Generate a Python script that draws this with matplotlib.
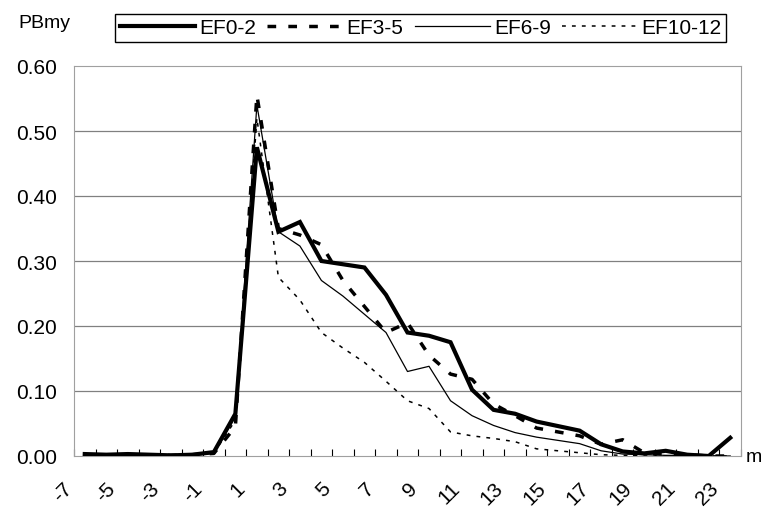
import matplotlib
matplotlib.use("Agg")
import matplotlib.pyplot as plt
from matplotlib.transforms import offset_copy

# months relative to event
months = list(range(-7, 24))
tick_labels = [str(m) if (m + 7) % 2 == 0 else "" for m in months]

ef0_2 = [0.003, 0.002, 0.003, 0.002, 0.001, 0.002, 0.006, 0.065, 0.475, 0.345,
         0.360, 0.300, 0.295, 0.290, 0.248, 0.190, 0.185, 0.175, 0.102, 0.071,
         0.065, 0.053, 0.046, 0.039, 0.018, 0.007, 0.004, 0.008, 0.002, 0.000, 0.028]
ef3_5 = [0.001, 0.001, 0.002, 0.001, 0.001, 0.002, 0.004, 0.045, 0.555, 0.350,
         0.340, 0.325, 0.270, 0.230, 0.190, 0.205, 0.155, 0.126, 0.118, 0.080,
         0.062, 0.043, 0.037, 0.031, 0.018, 0.025, 0.005, 0.003, 0.002, 0.000, 0.000]
ef6_9 = [0.001, 0.001, 0.001, 0.001, 0.001, 0.001, 0.004, 0.060, 0.540, 0.345,
         0.323, 0.270, 0.246, 0.218, 0.190, 0.130, 0.138, 0.085, 0.062, 0.047,
         0.036, 0.029, 0.024, 0.019, 0.008, 0.003, 0.002, 0.001, 0.001, 0.000, 0.000]
ef10_12 = [0.001, 0.001, 0.001, 0.001, 0.001, 0.001, 0.004, 0.055, 0.520, 0.275,
           0.240, 0.190, 0.166, 0.144, 0.115, 0.085, 0.073, 0.037, 0.031, 0.027,
           0.022, 0.011, 0.008, 0.005, 0.002, 0.001, 0.000, 0.000, 0.000, 0.000, 0.000]

y_ticks = [0.0, 0.1, 0.2, 0.3, 0.4, 0.5, 0.6]

narrow = ["Liberation Sans Narrow", "Liberation Sans", "DejaVu Sans"]
regular = ["Liberation Sans", "DejaVu Sans"]

fig = plt.figure(figsize=(7.62, 5.10), dpi=100)
ax = fig.add_axes([74 / 762, 53 / 510, 667 / 762, 390 / 510])

x = list(range(len(months)))

for y in y_ticks[1:-1]:
    ax.axhline(y, color="#808080", lw=0.9, zorder=1)

l1, = ax.plot(x, ef0_2, color="black", lw=3.0, solid_joinstyle="miter", zorder=5, label="EF0-2")
l2, = ax.plot(x, ef3_5, color="black", lw=2.5, dashes=(2.5, 3.5), zorder=4, label="EF3-5")
l3, = ax.plot(x, ef6_9, color="black", lw=0.9, zorder=3, label="EF6-9")
l4, = ax.plot(x, ef10_12, color="black", lw=1.1, dashes=(2.5, 4), zorder=3, label="EF10-12")

ax.set_xlim(-0.5, len(months) - 0.5)
ax.set_ylim(0, 0.6)

for sp in ax.spines.values():
    sp.set_linestyle((0, (1, 1)))
    sp.set_color("#a0a0a0")
    sp.set_linewidth(0.8)

ax.set_yticks(y_ticks)
ax.set_yticklabels([f"{v:.2f}" for v in y_ticks], family=regular, fontsize=15)
ax.tick_params(axis="y", length=0, pad=12)

ax.set_xticks([i + 0.5 for i in range(-1, len(months))], minor=True)
ax.set_xticks([])
ax.tick_params(axis="x", which="minor", direction="in", length=5, width=0.8, color="black")

trans = offset_copy(ax.get_xaxis_transform(), fig=fig, x=-15, y=-29, units="dots")
for i, lab in enumerate(tick_labels):
    if lab:
        ax.text(i, 0, lab, transform=trans, rotation=45, rotation_mode="anchor",
                ha="right", va="center", fontsize=15, family=narrow)

fig.text(18 / 762, 1 - 28 / 510, "PBmy", fontsize=14, family=regular, va="baseline")
fig.text(746 / 762, 1 - 462 / 510, "m", fontsize=14, family=regular, va="baseline")

leg = fig.legend(handles=[l1, l2, l3, l4], loc="center", ncol=4,
                 bbox_to_anchor=((113 + 728) / 2 / 762, 1 - 29 / 510),
                 prop={"family": narrow, "size": 15}, frameon=True, fancybox=False,
                 edgecolor="black", framealpha=1, borderpad=0.2, handlelength=3.6,
                 handletextpad=0.2, columnspacing=0.55)
leg.get_frame().set_linewidth(1.0)

fig.savefig("out.png", dpi=100)
